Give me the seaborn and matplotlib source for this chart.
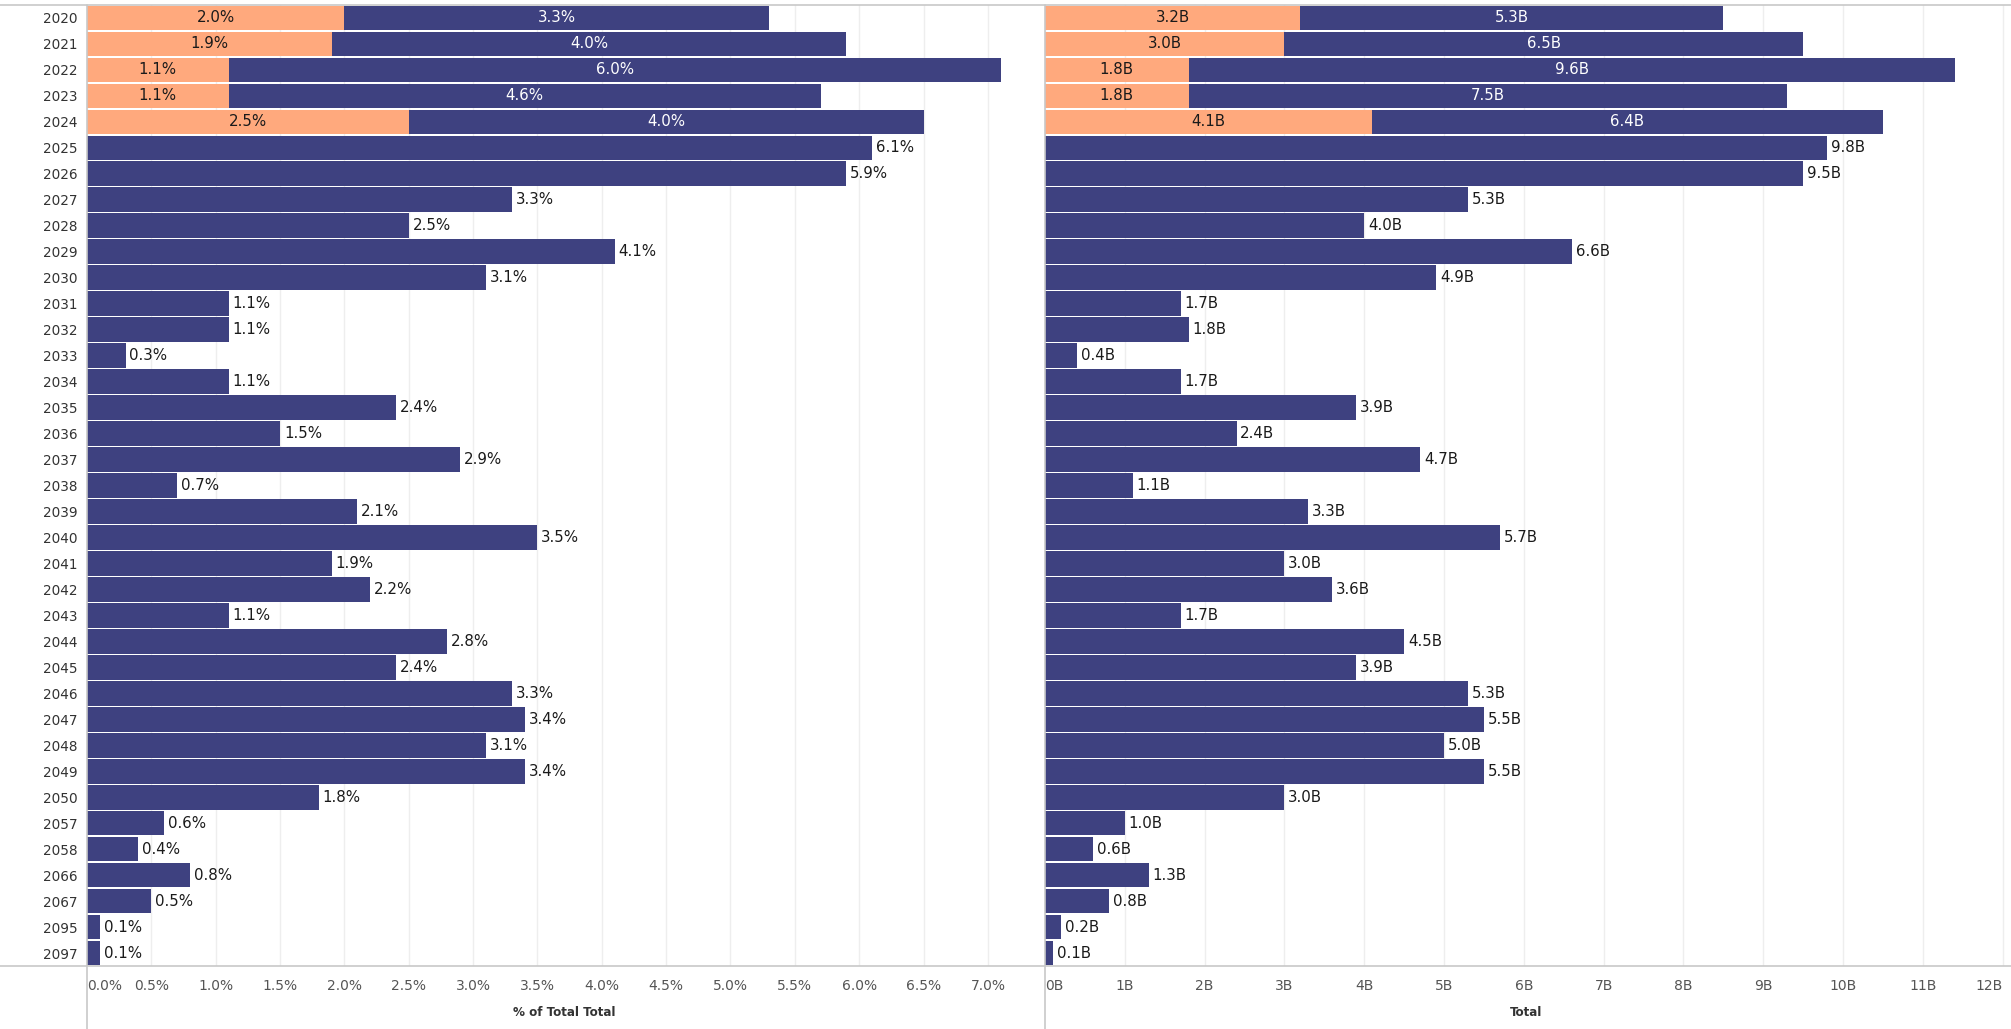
import matplotlib
matplotlib.use("Agg")
import matplotlib.pyplot as plt
from matplotlib.lines import Line2D
import seaborn as sns
import pandas as pd
import numpy as np

years = ["2020", "2021", "2022", "2023", "2024", "2025", "2026", "2027", "2028", "2029",
         "2030", "2031", "2032", "2033", "2034", "2035", "2036", "2037", "2038", "2039",
         "2040", "2041", "2042", "2043", "2044", "2045", "2046", "2047", "2048", "2049",
         "2050", "2057", "2058", "2066", "2067", "2095", "2097"]

# main (dark) series
pct_main = [3.3, 4.0, 6.0, 4.6, 4.0, 6.1, 5.9, 3.3, 2.5, 4.1,
            3.1, 1.1, 1.1, 0.3, 1.1, 2.4, 1.5, 2.9, 0.7, 2.1,
            3.5, 1.9, 2.2, 1.1, 2.8, 2.4, 3.3, 3.4, 3.1, 3.4,
            1.8, 0.6, 0.4, 0.8, 0.5, 0.1, 0.1]
amt_main = [5.3, 6.5, 9.6, 7.5, 6.4, 9.8, 9.5, 5.3, 4.0, 6.6,
            4.9, 1.7, 1.8, 0.4, 1.7, 3.9, 2.4, 4.7, 1.1, 3.3,
            5.7, 3.0, 3.6, 1.7, 4.5, 3.9, 5.3, 5.5, 5.0, 5.5,
            3.0, 1.0, 0.6, 1.3, 0.8, 0.2, 0.1]

# secondary (orange) series, only first years
stack_years = ["2020", "2021", "2022", "2023", "2024"]
pct_orange = [2.0, 1.9, 1.1, 1.1, 2.5]
amt_orange = [3.2, 3.0, 1.8, 1.8, 4.1]

pct_ticks = [0.0, 0.5, 1.0, 1.5, 2.0, 2.5, 3.0, 3.5, 4.0, 4.5, 5.0, 5.5, 6.0, 6.5, 7.0]
amt_ticks = [0, 1, 2, 3, 4, 5, 6, 7, 8, 9, 10, 11, 12]

DARK = "#3E4180"
ORANGE = "#FFA97D"
GRID = "#EEEEEE"
LINE = "#C8C8C8"
TXT = "#333333"

df = pd.DataFrame({"year": years, "pct_main": pct_main, "amt_main": amt_main})
df_o = pd.DataFrame({"year": stack_years, "pct_orange": pct_orange, "amt_orange": amt_orange})
df = df.merge(df_o, on="year", how="left").fillna(0.0)
df["pct_total"] = df["pct_main"] + df["pct_orange"]
df["amt_total"] = df["amt_main"] + df["amt_orange"]

sns.set_theme(style="white")
plt.rcParams["font.family"] = ["DejaVu Sans"]

W, H = 2011, 1029
fig = plt.figure(figsize=(W / 100, H / 100), dpi=100)
top_px, bot_px = 5, 966
l1, r1 = 87, 1041
l2, r2 = 1045, 2008
ax1 = fig.add_axes([l1 / W, 1 - bot_px / H, (r1 - l1) / W, (bot_px - top_px) / H])
ax2 = fig.add_axes([l2 / W, 1 - bot_px / H, (r2 - l2) / W, (bot_px - top_px) / H])

FS_Y = 9.8
FS_TICK = 10
FS_VAL = 10.8
BW = 0.95

panels = [
    (ax1, "pct_total", "pct_orange", "pct_main", "% of Total Total", pct_ticks,
     lambda v: f"{v:.1f}%", (r1 - l1) / 128.7, "%"),
    (ax2, "amt_total", "amt_orange", "amt_main", "Total", amt_ticks,
     lambda v: f"{v:.0f}B", (r2 - l2) / 79.8, "B"),
]

for ax, tot_col, or_col, main_col, title, ticks, tfmt, xmax, unit in panels:
    ax.set_axisbelow(True)
    sns.barplot(data=df, y="year", x=tot_col, order=years, color=DARK, saturation=1,
                width=BW, errorbar=None, orient="h", linewidth=0, ax=ax)
    sns.barplot(data=df_o, y="year", x=or_col, order=years, color=ORANGE, saturation=1,
                width=BW, errorbar=None, orient="h", linewidth=0, ax=ax)
    ax.set_xlim(0, xmax)
    ax.set_ylim(len(years) - 0.5, -0.5)
    ax.set_xticks(ticks)
    ax.set_xticklabels([tfmt(t) for t in ticks], fontsize=FS_TICK, color="#555555")
    ax.get_xticklabels()[0].set_ha("left")
    ax.tick_params(axis="x", length=0, pad=9)
    ax.grid(axis="x", color=GRID, linewidth=1)
    ax.grid(axis="y", visible=False)
    ax.set_xlabel(title, fontsize=9.5, fontweight="bold", color=TXT, labelpad=10,
                  fontstretch="condensed")
    ax.set_ylabel("")
    for s in ["top", "right", "left", "bottom"]:
        ax.spines[s].set_visible(False)

    pad = xmax * 0.004
    for i, row in df.iterrows():
        o = row[or_col]
        m = row[main_col]
        if o > 0:
            ax.text(o / 2, i, f"{o:.1f}{unit}", ha="center", va="center",
                    fontsize=FS_VAL, color="#1a1a1a")
            ax.text(o + m / 2, i, f"{m:.1f}{unit}", ha="center", va="center",
                    fontsize=FS_VAL, color="white")
        else:
            ax.text(m + pad, i, f"{m:.1f}{unit}", ha="left", va="center",
                    fontsize=FS_VAL, color="#1a1a1a")

ax2.get_xticklabels()[-1].set_ha("right")

ax1.tick_params(axis="y", length=0, pad=7, labelsize=FS_Y, labelcolor=TXT)
ax2.set_yticklabels([])
ax2.tick_params(axis="y", length=0)

# frame lines (Tableau style)
fig.add_artist(Line2D([0, 1], [1 - top_px / H, 1 - top_px / H], transform=fig.transFigure,
                      color=LINE, linewidth=1.2))
fig.add_artist(Line2D([0, 1], [1 - bot_px / H, 1 - bot_px / H], transform=fig.transFigure,
                      color=LINE, linewidth=1.2))
for xpx in (l1, l2):
    fig.add_artist(Line2D([xpx / W, xpx / W], [0, 1 - top_px / H], transform=fig.transFigure,
                          color=LINE, linewidth=1.2))

fig.savefig("out.png", dpi=100, facecolor="white")
